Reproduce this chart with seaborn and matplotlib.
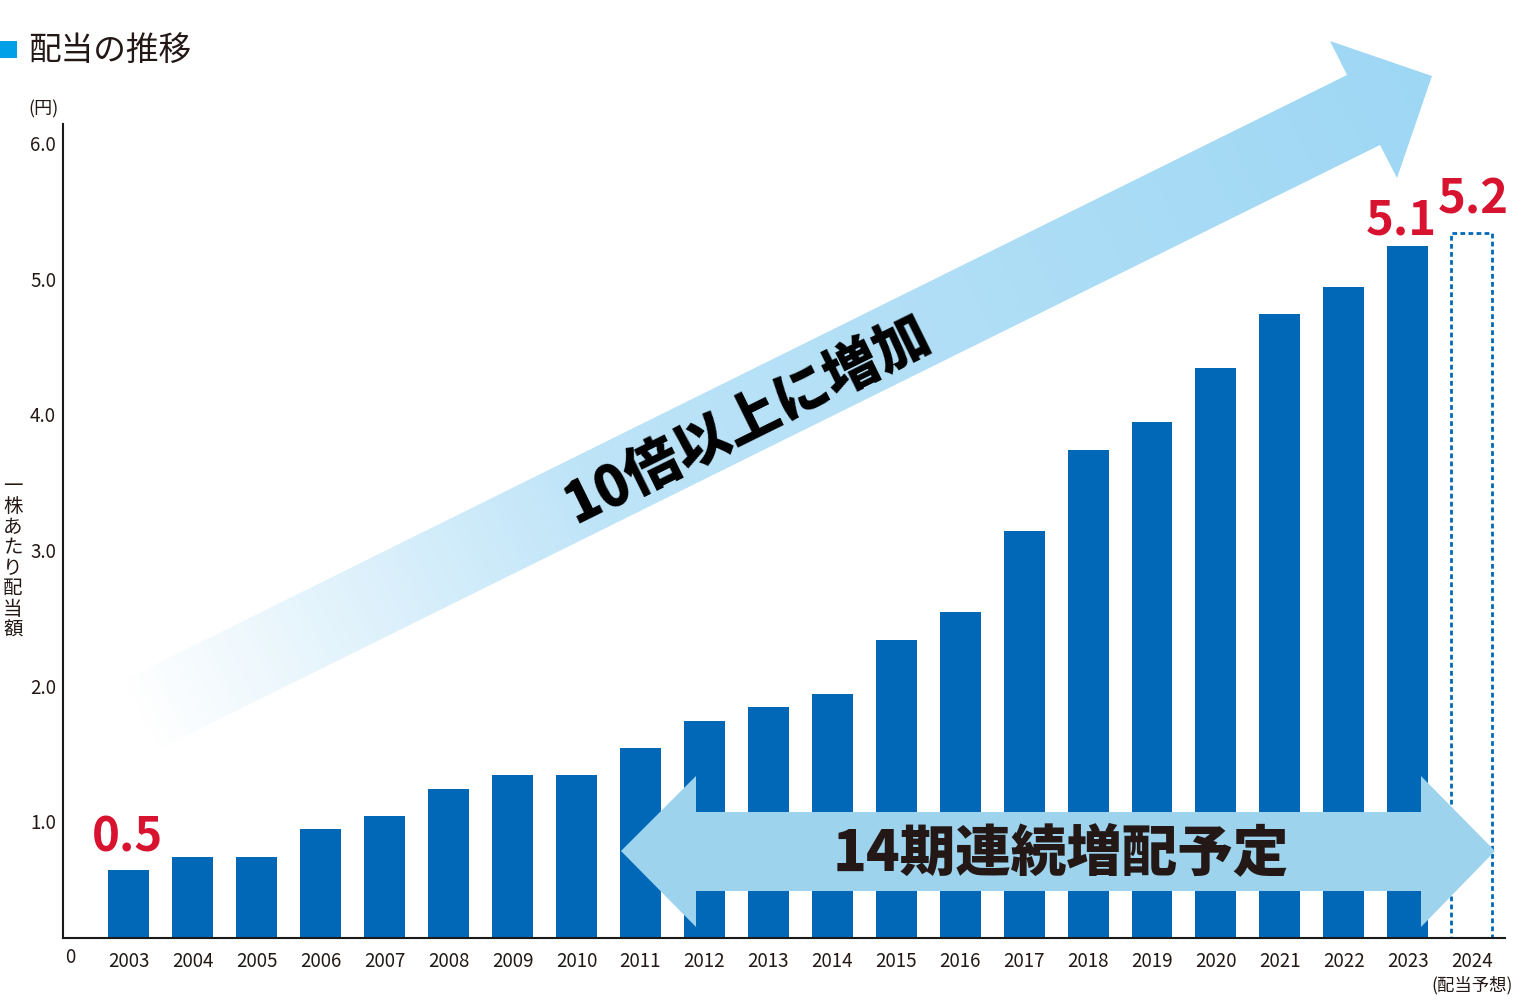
import numpy as np
import pandas as pd
import matplotlib
matplotlib.use("Agg")
import matplotlib.pyplot as plt
import seaborn as sns
from matplotlib.patches import Polygon
from matplotlib.colors import LinearSegmentedColormap
from matplotlib.transforms import ScaledTranslation

# データ（一株あたり配当額, 円）
years = ["2003", "2004", "2005", "2006", "2007", "2008", "2009", "2010", "2011",
         "2012", "2013", "2014", "2015", "2016", "2017", "2018", "2019", "2020",
         "2021", "2022", "2023", "2024"]
dividends = [0.5, 0.6, 0.6, 0.8, 0.9, 1.1, 1.2, 1.2, 1.4, 1.6, 1.7, 1.8, 2.2,
             2.4, 3.0, 3.6, 3.8, 4.2, 4.6, 4.8, 5.1, 5.2]
y_ticks = [1.0, 2.0, 3.0, 4.0, 5.0, 6.0]
labelled_years = ["2003", "2023", "2024"]
forecast_year = "2024"

BAR_BLUE = "#0068B7"
RED = "#D7132F"
INK = "#231815"

sns.set_theme(style="white")
plt.rcParams["font.family"] = ["Noto Sans CJK JP", "DejaVu Sans"]

df = pd.DataFrame({"year": years, "dividend": dividends})

fig = plt.figure(figsize=(15.3, 10.05), dpi=100)
W, H = 1530, 1005
ax = fig.add_axes([63 / W, (H - 938) / H, (1505 - 63) / W, (938 - 124) / H])

sns.barplot(data=df, x="year", y="dividend", order=years, color=BAR_BLUE,
            saturation=1, width=0.64, linewidth=0, ax=ax)

# 2024年は予想 -> 点線の枠
fi = years.index(forecast_year)
p = ax.patches[fi]
p.set_facecolor("none")
p.set_edgecolor(BAR_BLUE)
p.set_linewidth(2.0)
p.set_linestyle((0, (1.7, 1.2)))

ax.set_xlim(-1.03, 21.52)
ax.set_ylim(0, 6.0)
ax.set_xlabel("")
ax.set_ylabel("")
for s in ["top", "right"]:
    ax.spines[s].set_visible(False)
for s in ["left", "bottom"]:
    ax.spines[s].set_color("#1a1a1a")
    ax.spines[s].set_linewidth(1.5)
ax.tick_params(axis="both", length=0, labelsize=13.5, colors=INK)
ax.tick_params(axis="x", pad=9)
ax.tick_params(axis="y", pad=5)
ax.set_yticks(y_ticks, labels=[f"{v:.1f}" for v in y_ticks])
shift = ScaledTranslation(0, -0.19, fig.dpi_scale_trans)
for lab in ax.get_yticklabels():
    lab.set_transform(lab.get_transform() + shift)

# 赤い数値ラベル
label_offsets = {"2003": (-1, 19), "2023": (-6, 12), "2024": (2, 19)}
for y in labelled_years:
    i = years.index(y)
    v = dividends[i]
    ax.annotate(f"{v:.1f}", xy=(i, v), xytext=label_offsets[y],
                textcoords="offset pixels", ha="center", va="baseline",
                fontsize=34, fontweight="bold", color=RED)

# 装飾用のオーバーレイ（ピクセル座標）
ov = fig.add_axes([0, 0, 1, 1], zorder=5)
ov.set_xlim(0, W)
ov.set_ylim(H, 0)
ov.axis("off")
ov.patch.set_alpha(0)

# 大きな斜め矢印（グラデーション）
arrow_pts = [(120, 682), (1347, 75), (1330, 41), (1432, 76), (1397, 178),
             (1380, 145), (153, 752)]
arrow = Polygon(arrow_pts, closed=True, facecolor="none", edgecolor="none")
ov.add_patch(arrow)
sx, sy = 136.5, 717.0
ux, uy = 1295.5, -641.0
L = np.hypot(ux, uy)
ux, uy = ux / L, uy / L
gx = np.linspace(100, 1450, 700)
gy = np.linspace(30, 770, 400)
GX, GY = np.meshgrid(gx, gy)
t = np.clip(((GX - sx) * ux + (GY - sy) * uy) / L, 0, 1)
cmap = LinearSegmentedColormap.from_list(
    "fade", [(0, "#FFFFFF"), (0.35, "#BEE4F8"), (1.0, "#9ED7F4")])
im = ov.imshow(t, cmap=cmap, vmin=0, vmax=1, extent=(100, 1450, 770, 30),
               origin="upper", aspect="auto", interpolation="bilinear")
im.set_clip_path(arrow)
ov.text(748, 420, "10倍以上に増加", rotation=26.3, rotation_mode="anchor",
        ha="center", va="center", fontsize=40, fontweight="heavy", color="black")

# 左右矢印
dbl = [(621, 851), (696, 776), (696, 812), (1421, 812), (1421, 776), (1495, 851),
       (1421, 927), (1421, 891), (696, 891), (696, 927)]
ov.add_patch(Polygon(dbl, closed=True, facecolor="#9DD3EC", edgecolor="none"))
ov.text(1061, 854, "14期連続増配予定", ha="center", va="center",
        fontsize=40, fontweight="heavy", color=INK)

# タイトルなど
ov.add_patch(Polygon([(0, 41), (17, 41), (17, 58), (0, 58)], closed=True,
                     facecolor="#00A0E9", edgecolor="none"))
ov.text(28, 51, "配当の推移", ha="left", va="center", fontsize=23.5, color=INK)
ov.text(44, 109, "(円)", ha="center", va="center", fontsize=13, color=INK)
ov.text(70, 957, "0", ha="center", va="center", fontsize=13.5, color=INK)
ov.text(1472, 985, "(配当予想)", ha="center", va="center", fontsize=12.5, color=INK)
ov.text(13, 558, "\n".join("一株あたり配当額"), ha="center", va="center",
        fontsize=14, linespacing=0.97, color=INK)

fig.savefig("out.png", dpi=100)
